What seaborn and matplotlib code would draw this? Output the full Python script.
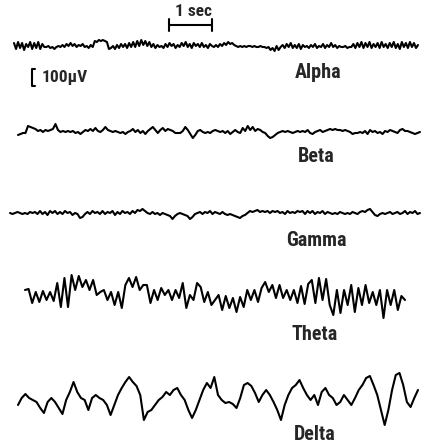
"""
eeg_rhythms.py — Classic EEG rhythm examples (alpha, beta, gamma, theta, delta)
redrawn as black traces with a time / voltage calibration.
"""

import numpy as np
import matplotlib
matplotlib.use("Agg")
import matplotlib.pyplot as plt
from matplotlib import font_manager
import seaborn as sns


# Trace samples in µV (evenly spaced in time)
alpha_uv = [
    18, -18, 24, -12, 18, -24, 12, -6, 24, -18, 18, -12, 24, -18, 12, -6,
    -6, 0, -12, -6, -18, -6, 0,
    -6, 6, -6, 12, 0, 18, 0, 12, -6, 6, 0, 12, -6, 0, -12, 6, -6,
    30, 24, 36, 30, 36, 30, 24,
    -18,
    -12, 0, -18, 6, -12, 12, -6, 12, -12, 18, -6, 24, -6, 30, 0, 36, 6, 30, 0, 24,
    -6, 12, -12, 6, -6,
    0, -12, 12, -6, 18, 0, 12, -12, 6, -6, 18, 0, 24, -6, 12, -12, 18, 0, 12, -6,
    18, -6, 6, -12, 12, 0,
    -6, 6, -6, 12, 0, 18, 6, 24, 12, 18, 6, 0, -6,
    0, -6, 0, -6, 0, 0, -6, 0, -6, -6, 0, -6, -6, -12, -6,
    -24, -12, -30, 0, -24, -6,
    6, -12, 12, -6, 18, -12, 6, -12, 12, -18, 6, -6, 0, -12, 6, -6, 12, -12, 0, -6,
    12, -12, 6, -6, 18, -6, 6, -12, 0,
    -6, -6, 0, -12, -6, -6,
    12, -12, 18, -6, 24, -12, 18, -6, 24, -12, 12, -6, 18, -12, 24, -6, 12, -12,
    18, -6, 24, -12, 12, -18, 24, -6, 18, -12, 24, -6, 18, -12, 6,
]

beta_uv = [
    -18, -12, -6, -6, 36, 30, 24, 18, 6, 12, 0, 12, 6, 12, 18, 48, 12, 0, 6, 0,
    6, 0, 6, -6, 0, -12, 0, 12, 6, 18, 6, 24, 6, 0, 12, 30, 12, 6, 0, 6,
    0, -6, 0, -12, 0, 6, 18, 0, 12, -6, 6, -12, 6, 18, 30, 12, -6, 12, 24, 6,
    18, 12, 6, -6, -6, -6, 6, 30, 12, -12, -36, -18, 6, 12, 0, -6, 0, -6, 6, 12,
    6, 0, 6, -6, 6, -12, 0, 12, 0, -6, 24, 6, 36, 12, 30, 6, 18, 12, 0, -6,
    -24, -36, -30, -18, -6, 0, 6, 0, 6, 0, -6, 0, 6, 0, 6, 0, 12, -6, -12, 0,
    6, 12, 0, 6, 12, 18, 12, 18, 12, 12, 6, 12, 6, 0, -12, -6, -6, 0, -6, 6,
    -12, 12, 0, 6, -6, 0, -12, 6, 0, 12, 6, 0, -6, 12, 18, 6, 6, 0, -6, -12,
    -6, 0,
]

gamma_uv = [
    0, -6, 0, 6, 0, -6, 0, -6, 6, 0,
    6, -6, 12, -6, 6, -12, 12, 0, 12, -6, 6, -6, 12, 0, 6, -12, 0, -6,
    -30, -24,
    -6, 6, -6, 12, 0, 6, -6, 12, -6, 6, 0, 12, -12, 6, -6, 12, 0, 6, -6, 12, 0, 18, 12,
    24, 12,
    0, -6, 6, -6, 0, -12, 0, -6, -12, -18,
    -36, -18,
    -6, 0, -6, -12, -18,
    -36, -24,
    -6, 0, 6, -6, 6, 0, 12, -6, 6, 0, -6, 6, -6, -12, -6, -12, -18,
    -24, -30, -18, -12,
    0, 12, 6, 12, 18, 6, 12, 6, 12,
    0, 12, 6, 12, 0, 6, -6, 12, 0, 6, 0, 12, 6,
    12, -6, 12, 0, 12, -6, 6, 0, 12, -6, 6, 0, -6,
    0, -6, 6, 0, -6, 0, -6, 6, 0, -6, 6, 12, 6,
    18, 24, 6,
    -12, -18, -6,
    0, -6, 0, 6, -6, 0, 6, -6, 0, 12, -6, 6, 0, 12, -6, 0,
]

theta_uv = [
    36, 42, -42, 24, -36, 30, -24, 24, -30, 78, -66, 108, -66, 126, 36, 120, 54, 96,
    36, 96, 6, 24, 36, -24, 24, -54, 24, -72, 66, 108, 54, 114, 36, 66, 66, -42,
    36, -24, 48, 6, 36, -24, 36, -12, 78, -72, 6, -24, 78, 54, -36, 24, -54,
    -24, 6, -84, 0, -72, -12, -96, -6, -66, 36, -24, 36, -36, 48, 84, 24, 66, -12,
    66, -12, 36, -24, 36, -42, 60, -48, 72, 96, -42, 108, -24, 102, -54, -114, 36,
    -102, 36, -54, 66, -96, 48, -54, 66, -42, 24, -54, 36, -132, 36, -54, 36, -84,
    0, -24,
]

delta_uv = [
    -30, 12, 36, 12, 0, -12, -48, -78, -12, 12,
    -12, -48, -84, 0, 48, 108, 48, 12, 0, -60,
    12, 30, 12, 0, -30, -90, -30, 30, 72, 108,
    138, 108, 84, 30, -120, -72, -60, -30, 0, 18,
    48, 30, 60, 72, 30, 0, -60, -108, -60, 0,
    60, 102, 72, 138, 30, 0, -18, -12, -24, -48,
    12, 90, 102, 84, 42, -12, 30, 60, 30, -12,
    -60, -120, -30, 30, 72, 90, 120, 72, 30, 0,
    30, -30, 48, 72, 30, 12, -30, -12, 30, 0,
    -30, 12, 60, 90, 132, 144, 90, 30, -60, -150,
    -60, 60, 150, 162, 90, -12, -42, 12, 60,
]

rhythm_names = ["Alpha", "Beta", "Gamma", "Theta", "Delta"]
rhythm_values = [alpha_uv, beta_uv, gamma_uv, theta_uv, delta_uv]

time_bar_sec = 1.0
volt_bar_uv = 100.0

# Page geometry (pixels of the original figure)
W, H = 426, 447
PX_PER_SEC = 43.0
UV_PER_PX = 6.0

# start px, end px, baseline py, label centre x, label centre y
LAYOUT = {
    "Alpha": (14, 418, 46, 318, 73),
    "Beta": (18, 420, 132, 316, 156),
    "Gamma": (10, 420, 213, 316, 240),
    "Theta": (25, 405, 296, 315, 334),
    "Delta": (18, 418, 400, 315, 435),
}


def pick_font():
    # narrow sans if there is one, else plain Liberation Sans a bit smaller
    entries = font_manager.fontManager.ttflist
    names = {f.name for f in entries}
    for fam in ["Roboto Condensed", "Liberation Sans Narrow", "Open Sans Condensed"]:
        if fam in names:
            return fam, "normal", 1.0
    for f in entries:
        if f.name == "DejaVu Sans" and f.stretch == "condensed":
            return "DejaVu Sans", "condensed", 0.95
    return "Liberation Sans", "normal", 0.86


FAMILY, STRETCH, SIZE_K = pick_font()
FONT = [FAMILY, "DejaVu Sans"]


def sx(px):
    return px / PX_PER_SEC


def sy(py):
    return (H - py) * UV_PER_PX


def label(x, y, s, size, ha="center"):
    ax.text(x, y, s, ha=ha, va="center", fontsize=size * SIZE_K,
            fontweight="bold", family=FONT, fontstretch=STRETCH)


sns.set_theme(style="white")
plt.rcParams["font.family"] = FONT

fig = plt.figure(figsize=(W / 100, H / 100), dpi=100)
ax = fig.add_axes([0, 0, 1, 1])
ax.set_xlim(0, W / PX_PER_SEC)
ax.set_ylim(0, H * UV_PER_PX)
ax.axis("off")

for name, vals in zip(rhythm_names, rhythm_values):
    x0, x1, base, lx, ly = LAYOUT[name]
    t = np.linspace(sx(x0), sx(x1), len(vals))
    y = np.asarray(vals, dtype=float) + sy(base)
    sns.lineplot(x=t, y=y, ax=ax, color="black", linewidth=1.5,
                 estimator=None, sort=False)
    label(sx(lx), sy(ly), name, 14.5)

# time calibration bar
bx0 = sx(169)
by = sy(25)
tick = 6 * UV_PER_PX
ax.plot([bx0, bx0 + time_bar_sec], [by, by], color="black", lw=1.5)
for bx in (bx0, bx0 + time_bar_sec):
    ax.plot([bx, bx], [by - tick, by + tick], color="black", lw=1.5)
label(bx0 + time_bar_sec / 2 + sx(3), sy(12), f"{time_bar_sec:.0f} sec", 12.5)

# voltage calibration bracket
vx = sx(32)
vtop = sy(69)
serif = sx(3)
ax.plot([vx + serif, vx, vx, vx + serif],
        [vtop, vtop, vtop - volt_bar_uv, vtop - volt_bar_uv],
        color="black", lw=1.5)
label(sx(42), vtop - volt_bar_uv / 2, f"{volt_bar_uv:.0f}\u00b5V", 12.5, ha="left")

fig.savefig("out.png", dpi=100)
